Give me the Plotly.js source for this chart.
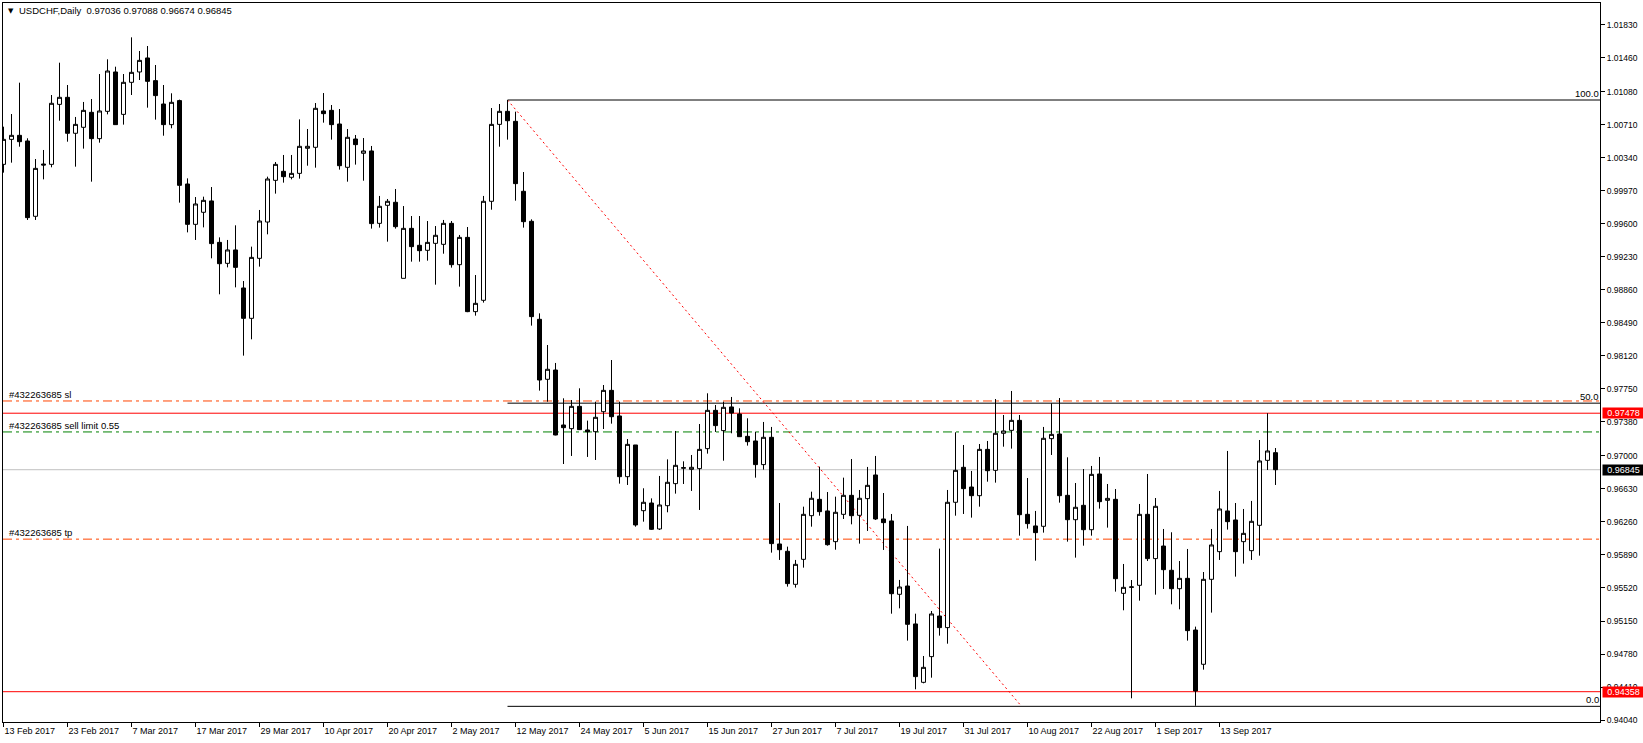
<!DOCTYPE html>
<html>
<head>
<meta charset="utf-8">
<script src="https://cdn.plot.ly/plotly-3.0.1.min.js"></script>
<style>
html,body{margin:0;padding:0;background:#fff;}
#chart{width:1643px;height:743px;}
</style>
</head>
<body>
<div id="chart"></div>
<script>
// ---- Daily USDCHF candles, 13 Feb 2017 .. 22 Sep 2017 (one per trading day) ----
const open = [
1.00266,1.00546,1.00591,1.00528,0.99684,1.00270,1.00266,1.00938,1.01017,1.00614,
1.00681,1.00849,1.00554,1.00860,1.01301,1.00826,1.01185,1.01301,1.01458,1.01204,
1.00942,1.00711,1.00980,1.00046,0.99594,0.99729,0.99856,0.99392,0.99157,0.99307,
0.98881,0.98541,0.99213,0.99620,1.00087,1.00188,1.00121,1.00165,1.00446,1.00457,
1.00864,1.00871,1.00718,1.00233,1.00550,1.00390,1.00416,0.99605,0.99807,0.99841,
0.98989,0.99549,0.99359,0.99303,0.99381,0.99370,0.99605,0.99142,0.99448,0.98616,
0.98743,0.99852,1.00714,1.00860,1.00748,0.99964,0.99628,0.98530,0.97858,0.97962,
0.97346,0.97305,0.97555,0.97290,0.97271,0.97495,0.97734,0.97447,0.96767,0.97122,
0.96386,0.96472,0.96181,0.96442,0.96689,0.96861,0.96849,0.96857,0.97081,0.97510,
0.97283,0.97548,0.97469,0.97219,0.97167,0.96902,0.97208,0.96013,0.95931,0.95561,
0.95841,0.96330,0.96513,0.96383,0.96039,0.96345,0.96558,0.96334,0.96521,0.96786,
0.96293,0.96271,0.95449,0.95542,0.95117,0.94463,0.94751,0.95206,0.95076,0.96480,
0.96872,0.96651,0.96554,0.97073,0.96838,0.97253,0.97286,0.97398,0.96345,0.96215,
0.96211,0.97193,0.97245,0.96558,0.96285,0.96446,0.96173,0.96797,0.96502,0.96513,
0.95460,0.95527,0.95550,0.96345,0.95849,0.95990,0.95718,0.95512,0.95628,0.95049,
0.94665,0.95617,0.95927,0.96383,0.96282,0.96039,0.95938,0.96222,0.96950,0.97036];
const high = [
1.00688,1.00830,1.01181,1.00558,1.00326,1.00427,1.01043,1.01405,1.01155,1.00797,
1.00965,1.00998,1.01278,1.01443,1.01360,1.01278,1.01689,1.01536,1.01592,1.01379,
1.01155,1.01062,1.00991,1.00109,0.99900,0.99904,1.00012,0.99448,0.99419,0.99583,
0.98959,0.99344,0.99755,1.00128,1.00292,1.00371,1.00371,1.00770,1.00662,1.00953,
1.01065,1.00931,1.00886,1.00662,1.00595,1.00561,1.00472,0.99912,0.99878,0.99990,
0.99799,0.99687,0.99687,0.99631,0.99575,0.99643,0.99631,0.99475,0.99564,0.99026,
0.99912,1.00897,1.00942,1.00987,1.00856,1.00180,0.99650,0.98597,0.98242,0.98041,
0.97645,0.97626,0.97757,0.97395,0.97607,0.97794,0.98074,0.97607,0.97189,0.97122,
0.96637,0.96524,0.96775,0.96961,0.97279,0.96939,0.97010,0.97357,0.97701,0.97570,
0.97607,0.97660,0.97533,0.97421,0.97271,0.97380,0.97324,0.96472,0.95983,0.95834,
0.96431,0.96599,0.96879,0.96595,0.96543,0.96756,0.96965,0.96618,0.96876,0.96999,
0.96584,0.96349,0.95610,0.96215,0.95232,0.94758,0.95262,0.95961,0.96618,0.97264,
0.97122,0.96831,0.97133,0.97167,0.97637,0.97458,0.97727,0.97458,0.96752,0.96383,
0.97324,0.97589,0.97648,0.96984,0.96696,0.96853,0.96887,0.96988,0.96685,0.96629,
0.95789,0.95609,0.96461,0.96797,0.96528,0.96181,0.96144,0.95822,0.95957,0.95087,
0.95699,0.96181,0.96607,0.97055,0.96472,0.96405,0.96495,0.97178,0.97478,0.97088];
const low = [
1.00173,1.00285,1.00464,0.99643,0.99643,1.00098,1.00233,1.00755,1.00520,1.00240,
1.00442,1.00072,1.00509,1.00826,1.00711,1.00711,1.01043,1.01211,1.00901,1.00767,
1.00587,1.00670,0.99837,0.99504,0.99419,0.99560,0.99213,0.98810,0.99112,0.98888,
0.98123,0.98306,0.99120,0.99482,0.99938,1.00061,1.00098,1.00106,1.00251,1.00229,
1.00733,1.00543,1.00207,1.00072,1.00263,1.00083,0.99546,0.99557,0.99400,0.99546,
0.98989,0.99176,0.99176,0.99187,0.98918,0.99265,0.99109,0.98896,0.98610,0.98571,
0.98717,0.99758,1.00464,1.00543,0.99859,0.99557,0.98459,0.97731,0.97607,0.97230,
0.96909,0.96999,0.97290,0.96988,0.96954,0.97301,0.97361,0.96689,0.96674,0.96207,
0.96263,0.96170,0.96170,0.96368,0.96577,0.96685,0.96607,0.96394,0.97025,0.97268,
0.96946,0.97253,0.97212,0.97115,0.96756,0.96846,0.95916,0.95834,0.95535,0.95524,
0.95748,0.96207,0.96330,0.95994,0.95949,0.96293,0.96233,0.96017,0.96159,0.96282,
0.95946,0.95232,0.95292,0.94930,0.94385,0.94452,0.94515,0.94986,0.94896,0.96330,
0.96349,0.96308,0.96431,0.96711,0.96700,0.97103,0.97081,0.96106,0.96185,0.95826,
0.96140,0.97010,0.96476,0.96039,0.95860,0.95994,0.96106,0.96409,0.96196,0.95479,
0.95270,0.94284,0.95378,0.95822,0.95445,0.95509,0.95337,0.95281,0.94930,0.94200,
0.94605,0.95244,0.95834,0.96174,0.95647,0.95793,0.95834,0.95882,0.96842,0.96674];
const close = [
1.00546,1.00591,1.00520,0.99669,1.00221,1.00259,1.00950,1.01017,1.00614,1.00714,
1.00871,1.00554,1.00864,1.01312,1.00711,1.01185,1.01297,1.01431,1.01196,1.01036,
1.00711,1.00961,1.00031,0.99594,0.99822,0.99863,0.99378,0.99153,0.99307,0.99112,
0.98541,0.99224,0.99631,1.00102,1.00266,1.00128,1.00165,1.00468,1.00468,1.00894,
1.00834,1.00711,1.00251,1.00569,1.00487,1.00416,0.99602,0.99796,0.99852,0.99568,
0.99549,0.99344,0.99299,0.99392,0.99471,0.99605,0.99142,0.99448,0.98616,0.98709,
0.99852,1.00714,1.00860,1.00755,1.00050,0.99624,0.98560,0.97850,0.97970,0.97234,
0.97316,0.97555,0.97294,0.97271,0.97432,0.97734,0.97439,0.96767,0.97129,0.96226,
0.96480,0.96177,0.96450,0.96704,0.96894,0.96868,0.96872,0.97073,0.97510,0.97339,
0.97544,0.97480,0.97215,0.97159,0.96902,0.97208,0.96017,0.95949,0.95569,0.95785,
0.96345,0.96525,0.96375,0.96005,0.96368,0.96558,0.96330,0.96525,0.96670,0.96293,
0.96252,0.95456,0.95531,0.95113,0.94527,0.94631,0.95229,0.95076,0.96480,0.96838,
0.96633,0.96554,0.97073,0.96834,0.97253,0.97279,0.97398,0.96341,0.96241,0.96140,
0.97197,0.97241,0.96554,0.96285,0.96424,0.96173,0.96793,0.96487,0.96524,0.95624,
0.95527,0.95532,0.96345,0.95849,0.96435,0.95725,0.95512,0.95628,0.95042,0.94366,
0.95617,0.96002,0.96405,0.96263,0.95927,0.96132,0.96267,0.96943,0.97055,0.96845];

// x-axis date labels (one every 8 trading days, starting at the first bar)
const dateLabels = ['13 Feb 2017','23 Feb 2017','7 Mar 2017','17 Mar 2017','29 Mar 2017',
  '10 Apr 2017','20 Apr 2017','2 May 2017','12 May 2017','24 May 2017','5 Jun 2017',
  '15 Jun 2017','27 Jun 2017','7 Jul 2017','19 Jul 2017','31 Jul 2017','10 Aug 2017',
  '22 Aug 2017','1 Sep 2017','13 Sep 2017'];
const labelEvery = 8;

// price-axis labels
const priceLabels = ['1.01830','1.01460','1.01080','1.00710','1.00340','0.99970','0.99600',
  '0.99230','0.98860','0.98490','0.98120','0.97750','0.97380','0.97000','0.96630','0.96260',
  '0.95890','0.95520','0.95150','0.94780','0.94410','0.94040'];

// objects on the chart
const symbolTitle = 'USDCHF,Daily  0.97036 0.97088 0.96674 0.96845';
const bidPrice = 0.96845;
const redLevels = [0.97478, 0.94358];
const orderLevels = [
  {name: '#432263685 sl', price: 0.97615, color: '#FF4500'},
  {name: '#432263685 sell limit 0.55', price: 0.97268, color: '#008000'},
  {name: '#432263685 tp', price: 0.96067, color: '#FF4500'}
];
const fibStart = {idx: 63, price: 1.00987};
const fibEnd = {idx: 127.25, price: 0.94194};
const fibLevels = [1.0, 0.5, 0.0];
const fibLabels = ['100.0', '50.0', '0.0'];

// ---- build ----
const x = open.map((_, i) => i);
const xRange = [-0.0625, 199.5625];
const yRange = [0.940185, 1.020737];
const FONT = 'Liberation Sans, Arial, sans-serif';

const trace = {
  type: 'candlestick', x: x, open: open, high: high, low: low, close: close,
  increasing: {line: {color: '#000', width: 1}, fillcolor: '#fff'},
  decreasing: {line: {color: '#000', width: 1}, fillcolor: '#000'},
  whiskerwidth: 0, hoverinfo: 'skip', showlegend: false
};

const shapes = [];
const annotations = [];

// bid line
shapes.push({type: 'line', xref: 'paper', x0: 0, x1: 1, yref: 'y', y0: bidPrice, y1: bidPrice,
  line: {color: '#C0C0C0', width: 1}, layer: 'below'});
// red horizontal lines
redLevels.forEach(p => shapes.push({type: 'line', xref: 'paper', x0: 0, x1: 1, yref: 'y', y0: p, y1: p,
  line: {color: '#FF0000', width: 1}, layer: 'below'}));
// order lines
orderLevels.forEach(o => {
  shapes.push({type: 'line', xref: 'paper', x0: 0, x1: 1, yref: 'y', y0: o.price, y1: o.price,
    line: {color: o.color, width: 1, dash: '9px,4px,3px,4px'}, layer: 'below'});
  annotations.push({xref: 'paper', x: 0.003, xanchor: 'left', yref: 'y', y: o.price, yanchor: 'bottom',
    text: o.name, showarrow: false, borderpad: 0, font: {family: FONT, size: 9.5, color: '#000'}});
});
// fibonacci
fibLevels.forEach((f, k) => {
  const p = fibEnd.price + f * (fibStart.price - fibEnd.price);
  shapes.push({type: 'line', xref: 'x', x0: fibStart.idx, x1: xRange[1], yref: 'y', y0: p, y1: p,
    line: {color: '#000', width: 1}, layer: 'below'});
  annotations.push({xref: 'paper', x: 1, xanchor: 'right', yref: 'y', y: p, yanchor: 'bottom',
    text: fibLabels[k], showarrow: false, borderpad: 0, font: {family: FONT, size: 9.5, color: '#000'}});
});
shapes.push({type: 'line', xref: 'x', yref: 'y', x0: fibStart.idx, y0: fibStart.price, x1: fibEnd.idx, y1: fibEnd.price,
  line: {color: '#FF0000', width: 1, dash: '2px,3px'}, layer: 'below'});

// price boxes on the axis
redLevels.forEach(p => annotations.push({xref: 'paper', x: 1.0013, xanchor: 'left', yref: 'y', y: p, yanchor: 'middle',
  text: p.toFixed(5), showarrow: false, bgcolor: '#FF0000', width: 41, height: 10, align: 'center', borderpad: 0,
  font: {family: FONT, size: 9, color: '#fff'}}));
annotations.push({xref: 'paper', x: 1.0013, xanchor: 'left', yref: 'y', y: bidPrice, yanchor: 'middle',
  text: bidPrice.toFixed(5), showarrow: false, bgcolor: '#000', width: 41, height: 10, align: 'center', borderpad: 0,
  font: {family: FONT, size: 9, color: '#fff'}});

// header
annotations.push({xref: 'paper', x: 0.0025, xanchor: 'left', yref: 'paper', y: 0.9889, yanchor: 'middle',
  text: '▼', showarrow: false, borderpad: 0, font: {family: 'DejaVu Sans', size: 7, color: '#000'}});
annotations.push({xref: 'paper', x: 0.0094, xanchor: 'left', yref: 'paper', y: 0.9889, yanchor: 'middle',
  text: symbolTitle, showarrow: false, borderpad: 0, font: {family: FONT, size: 9.5, color: '#000'}});

const layout = {
  width: 1643, height: 743,
  margin: {l: 3, r: 43, t: 3, b: 21, pad: 0},
  paper_bgcolor: '#fff', plot_bgcolor: '#fff',
  showlegend: false, hovermode: false,
  boxgap: 0.2857143, boxgroupgap: 0.3,
  xaxis: {
    type: 'linear', range: xRange, rangeslider: {visible: false},
    tickvals: dateLabels.map((_, k) => k * labelEvery), ticktext: dateLabels,
    ticks: 'outside', ticklen: 4, tickcolor: '#000', tickwidth: 1,
    ticklabelposition: 'outside right',
    showgrid: false, zeroline: false, showline: true, linecolor: '#000', linewidth: 1, mirror: true,
    tickfont: {family: FONT, size: 9, color: '#000'}
  },
  yaxis: {
    side: 'right', range: yRange,
    tickvals: priceLabels.map(Number), ticktext: priceLabels,
    ticks: 'outside', ticklen: 4, tickcolor: '#000', tickwidth: 1,
    showgrid: false, zeroline: false, showline: true, linecolor: '#000', linewidth: 1, mirror: true,
    tickfont: {family: FONT, size: 8.5, color: '#000'}
  },
  shapes: shapes,
  annotations: annotations
};

Plotly.newPlot('chart', [trace], layout, {staticPlot: true, displayModeBar: false});
</script>
</body>
</html>
